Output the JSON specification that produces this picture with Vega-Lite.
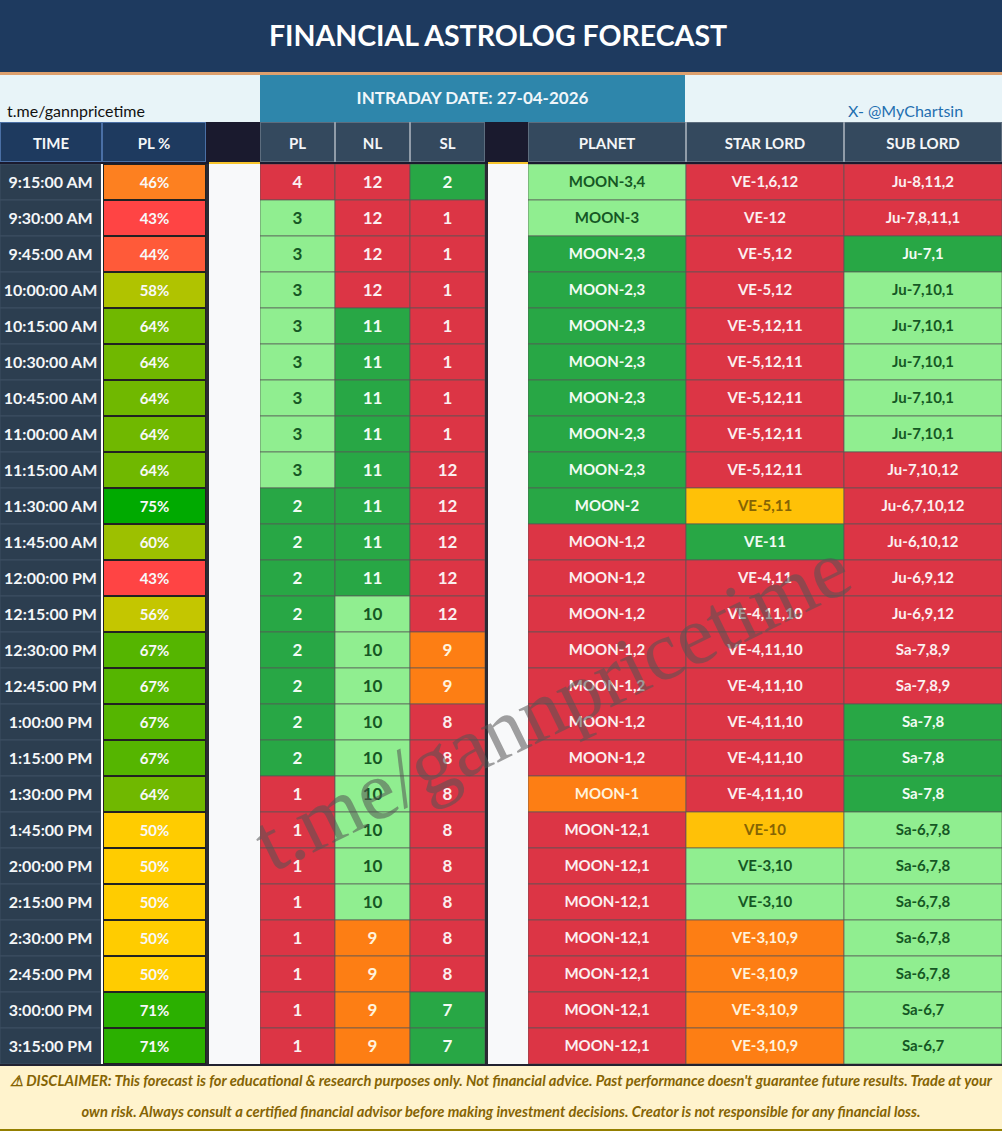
{"$schema":"https://vega.github.io/schema/vega-lite/v6.json","padding":0,"autosize":{"type":"pad"},"background":"#1a1a2e","spacing":0,"config":{"view":{"stroke":null},"font":"Lato","concat":{"spacing":0}},
"datasets":{
"banner":[{"title":"FINANCIAL ASTROLOG FORECAST","date":"INTRADAY DATE: 27-04-2026","left":"t.me/gannpricetime","right":"X- @MyChartsin"}],
"slot":[{"part":"slot"}],
"disclaimer":[{"line":"⚠ DISCLAIMER: This forecast is for educational & research purposes only. Not financial advice. Past performance doesn't guarantee future results. Trade at your"},{"line":"own risk. Always consult a certified financial advisor before making investment decisions. Creator is not responsible for any financial loss."}],
"headers":[{"col":"PL"},{"col":"NL"},{"col":"SL"},{"col":"PLANET"},{"col":"STAR LORD"},{"col":"SUB LORD"}],
"times":[{"time":"9:15:00 AM","pct":0.46},{"time":"9:30:00 AM","pct":0.43},{"time":"9:45:00 AM","pct":0.44},{"time":"10:00:00 AM","pct":0.58},{"time":"10:15:00 AM","pct":0.64},{"time":"10:30:00 AM","pct":0.64},{"time":"10:45:00 AM","pct":0.64},{"time":"11:00:00 AM","pct":0.64},{"time":"11:15:00 AM","pct":0.64},{"time":"11:30:00 AM","pct":0.75},{"time":"11:45:00 AM","pct":0.60},{"time":"12:00:00 PM","pct":0.43},{"time":"12:15:00 PM","pct":0.56},{"time":"12:30:00 PM","pct":0.67},{"time":"12:45:00 PM","pct":0.67},{"time":"1:00:00 PM","pct":0.67},{"time":"1:15:00 PM","pct":0.67},{"time":"1:30:00 PM","pct":0.64},{"time":"1:45:00 PM","pct":0.50},{"time":"2:00:00 PM","pct":0.50},{"time":"2:15:00 PM","pct":0.50},{"time":"2:30:00 PM","pct":0.50},{"time":"2:45:00 PM","pct":0.50},{"time":"3:00:00 PM","pct":0.71},{"time":"3:15:00 PM","pct":0.71}],
"cells":[
{"time":"9:15:00 AM","col":"PL","val":"4","state":"red"},{"time":"9:30:00 AM","col":"PL","val":"3","state":"light"},{"time":"9:45:00 AM","col":"PL","val":"3","state":"light"},{"time":"10:00:00 AM","col":"PL","val":"3","state":"light"},{"time":"10:15:00 AM","col":"PL","val":"3","state":"light"},{"time":"10:30:00 AM","col":"PL","val":"3","state":"light"},{"time":"10:45:00 AM","col":"PL","val":"3","state":"light"},{"time":"11:00:00 AM","col":"PL","val":"3","state":"light"},{"time":"11:15:00 AM","col":"PL","val":"3","state":"light"},{"time":"11:30:00 AM","col":"PL","val":"2","state":"green"},{"time":"11:45:00 AM","col":"PL","val":"2","state":"green"},{"time":"12:00:00 PM","col":"PL","val":"2","state":"green"},{"time":"12:15:00 PM","col":"PL","val":"2","state":"green"},{"time":"12:30:00 PM","col":"PL","val":"2","state":"green"},{"time":"12:45:00 PM","col":"PL","val":"2","state":"green"},{"time":"1:00:00 PM","col":"PL","val":"2","state":"green"},{"time":"1:15:00 PM","col":"PL","val":"2","state":"green"},{"time":"1:30:00 PM","col":"PL","val":"1","state":"red"},{"time":"1:45:00 PM","col":"PL","val":"1","state":"red"},{"time":"2:00:00 PM","col":"PL","val":"1","state":"red"},{"time":"2:15:00 PM","col":"PL","val":"1","state":"red"},{"time":"2:30:00 PM","col":"PL","val":"1","state":"red"},{"time":"2:45:00 PM","col":"PL","val":"1","state":"red"},{"time":"3:00:00 PM","col":"PL","val":"1","state":"red"},{"time":"3:15:00 PM","col":"PL","val":"1","state":"red"},
{"time":"9:15:00 AM","col":"NL","val":"12","state":"red"},{"time":"9:30:00 AM","col":"NL","val":"12","state":"red"},{"time":"9:45:00 AM","col":"NL","val":"12","state":"red"},{"time":"10:00:00 AM","col":"NL","val":"12","state":"red"},{"time":"10:15:00 AM","col":"NL","val":"11","state":"green"},{"time":"10:30:00 AM","col":"NL","val":"11","state":"green"},{"time":"10:45:00 AM","col":"NL","val":"11","state":"green"},{"time":"11:00:00 AM","col":"NL","val":"11","state":"green"},{"time":"11:15:00 AM","col":"NL","val":"11","state":"green"},{"time":"11:30:00 AM","col":"NL","val":"11","state":"green"},{"time":"11:45:00 AM","col":"NL","val":"11","state":"green"},{"time":"12:00:00 PM","col":"NL","val":"11","state":"green"},{"time":"12:15:00 PM","col":"NL","val":"10","state":"light"},{"time":"12:30:00 PM","col":"NL","val":"10","state":"light"},{"time":"12:45:00 PM","col":"NL","val":"10","state":"light"},{"time":"1:00:00 PM","col":"NL","val":"10","state":"light"},{"time":"1:15:00 PM","col":"NL","val":"10","state":"light"},{"time":"1:30:00 PM","col":"NL","val":"10","state":"light"},{"time":"1:45:00 PM","col":"NL","val":"10","state":"light"},{"time":"2:00:00 PM","col":"NL","val":"10","state":"light"},{"time":"2:15:00 PM","col":"NL","val":"10","state":"light"},{"time":"2:30:00 PM","col":"NL","val":"9","state":"orange"},{"time":"2:45:00 PM","col":"NL","val":"9","state":"orange"},{"time":"3:00:00 PM","col":"NL","val":"9","state":"orange"},{"time":"3:15:00 PM","col":"NL","val":"9","state":"orange"},
{"time":"9:15:00 AM","col":"SL","val":"2","state":"green"},{"time":"9:30:00 AM","col":"SL","val":"1","state":"red"},{"time":"9:45:00 AM","col":"SL","val":"1","state":"red"},{"time":"10:00:00 AM","col":"SL","val":"1","state":"red"},{"time":"10:15:00 AM","col":"SL","val":"1","state":"red"},{"time":"10:30:00 AM","col":"SL","val":"1","state":"red"},{"time":"10:45:00 AM","col":"SL","val":"1","state":"red"},{"time":"11:00:00 AM","col":"SL","val":"1","state":"red"},{"time":"11:15:00 AM","col":"SL","val":"12","state":"red"},{"time":"11:30:00 AM","col":"SL","val":"12","state":"red"},{"time":"11:45:00 AM","col":"SL","val":"12","state":"red"},{"time":"12:00:00 PM","col":"SL","val":"12","state":"red"},{"time":"12:15:00 PM","col":"SL","val":"12","state":"red"},{"time":"12:30:00 PM","col":"SL","val":"9","state":"orange"},{"time":"12:45:00 PM","col":"SL","val":"9","state":"orange"},{"time":"1:00:00 PM","col":"SL","val":"8","state":"red"},{"time":"1:15:00 PM","col":"SL","val":"8","state":"red"},{"time":"1:30:00 PM","col":"SL","val":"8","state":"red"},{"time":"1:45:00 PM","col":"SL","val":"8","state":"red"},{"time":"2:00:00 PM","col":"SL","val":"8","state":"red"},{"time":"2:15:00 PM","col":"SL","val":"8","state":"red"},{"time":"2:30:00 PM","col":"SL","val":"8","state":"red"},{"time":"2:45:00 PM","col":"SL","val":"8","state":"red"},{"time":"3:00:00 PM","col":"SL","val":"7","state":"green"},{"time":"3:15:00 PM","col":"SL","val":"7","state":"green"},
{"time":"9:15:00 AM","col":"PLANET","val":"MOON-3,4","state":"light"},{"time":"9:30:00 AM","col":"PLANET","val":"MOON-3","state":"light"},{"time":"9:45:00 AM","col":"PLANET","val":"MOON-2,3","state":"green"},{"time":"10:00:00 AM","col":"PLANET","val":"MOON-2,3","state":"green"},{"time":"10:15:00 AM","col":"PLANET","val":"MOON-2,3","state":"green"},{"time":"10:30:00 AM","col":"PLANET","val":"MOON-2,3","state":"green"},{"time":"10:45:00 AM","col":"PLANET","val":"MOON-2,3","state":"green"},{"time":"11:00:00 AM","col":"PLANET","val":"MOON-2,3","state":"green"},{"time":"11:15:00 AM","col":"PLANET","val":"MOON-2,3","state":"green"},{"time":"11:30:00 AM","col":"PLANET","val":"MOON-2","state":"green"},{"time":"11:45:00 AM","col":"PLANET","val":"MOON-1,2","state":"red"},{"time":"12:00:00 PM","col":"PLANET","val":"MOON-1,2","state":"red"},{"time":"12:15:00 PM","col":"PLANET","val":"MOON-1,2","state":"red"},{"time":"12:30:00 PM","col":"PLANET","val":"MOON-1,2","state":"red"},{"time":"12:45:00 PM","col":"PLANET","val":"MOON-1,2","state":"red"},{"time":"1:00:00 PM","col":"PLANET","val":"MOON-1,2","state":"red"},{"time":"1:15:00 PM","col":"PLANET","val":"MOON-1,2","state":"red"},{"time":"1:30:00 PM","col":"PLANET","val":"MOON-1","state":"orange"},{"time":"1:45:00 PM","col":"PLANET","val":"MOON-12,1","state":"red"},{"time":"2:00:00 PM","col":"PLANET","val":"MOON-12,1","state":"red"},{"time":"2:15:00 PM","col":"PLANET","val":"MOON-12,1","state":"red"},{"time":"2:30:00 PM","col":"PLANET","val":"MOON-12,1","state":"red"},{"time":"2:45:00 PM","col":"PLANET","val":"MOON-12,1","state":"red"},{"time":"3:00:00 PM","col":"PLANET","val":"MOON-12,1","state":"red"},{"time":"3:15:00 PM","col":"PLANET","val":"MOON-12,1","state":"red"},
{"time":"9:15:00 AM","col":"STAR LORD","val":"VE-1,6,12","state":"red"},{"time":"9:30:00 AM","col":"STAR LORD","val":"VE-12","state":"red"},{"time":"9:45:00 AM","col":"STAR LORD","val":"VE-5,12","state":"red"},{"time":"10:00:00 AM","col":"STAR LORD","val":"VE-5,12","state":"red"},{"time":"10:15:00 AM","col":"STAR LORD","val":"VE-5,12,11","state":"red"},{"time":"10:30:00 AM","col":"STAR LORD","val":"VE-5,12,11","state":"red"},{"time":"10:45:00 AM","col":"STAR LORD","val":"VE-5,12,11","state":"red"},{"time":"11:00:00 AM","col":"STAR LORD","val":"VE-5,12,11","state":"red"},{"time":"11:15:00 AM","col":"STAR LORD","val":"VE-5,12,11","state":"red"},{"time":"11:30:00 AM","col":"STAR LORD","val":"VE-5,11","state":"amber"},{"time":"11:45:00 AM","col":"STAR LORD","val":"VE-11","state":"green"},{"time":"12:00:00 PM","col":"STAR LORD","val":"VE-4,11","state":"red"},{"time":"12:15:00 PM","col":"STAR LORD","val":"VE-4,11,10","state":"red"},{"time":"12:30:00 PM","col":"STAR LORD","val":"VE-4,11,10","state":"red"},{"time":"12:45:00 PM","col":"STAR LORD","val":"VE-4,11,10","state":"red"},{"time":"1:00:00 PM","col":"STAR LORD","val":"VE-4,11,10","state":"red"},{"time":"1:15:00 PM","col":"STAR LORD","val":"VE-4,11,10","state":"red"},{"time":"1:30:00 PM","col":"STAR LORD","val":"VE-4,11,10","state":"red"},{"time":"1:45:00 PM","col":"STAR LORD","val":"VE-10","state":"amber"},{"time":"2:00:00 PM","col":"STAR LORD","val":"VE-3,10","state":"light"},{"time":"2:15:00 PM","col":"STAR LORD","val":"VE-3,10","state":"light"},{"time":"2:30:00 PM","col":"STAR LORD","val":"VE-3,10,9","state":"orange"},{"time":"2:45:00 PM","col":"STAR LORD","val":"VE-3,10,9","state":"orange"},{"time":"3:00:00 PM","col":"STAR LORD","val":"VE-3,10,9","state":"orange"},{"time":"3:15:00 PM","col":"STAR LORD","val":"VE-3,10,9","state":"orange"},
{"time":"9:15:00 AM","col":"SUB LORD","val":"Ju-8,11,2","state":"red"},{"time":"9:30:00 AM","col":"SUB LORD","val":"Ju-7,8,11,1","state":"red"},{"time":"9:45:00 AM","col":"SUB LORD","val":"Ju-7,1","state":"green"},{"time":"10:00:00 AM","col":"SUB LORD","val":"Ju-7,10,1","state":"light"},{"time":"10:15:00 AM","col":"SUB LORD","val":"Ju-7,10,1","state":"light"},{"time":"10:30:00 AM","col":"SUB LORD","val":"Ju-7,10,1","state":"light"},{"time":"10:45:00 AM","col":"SUB LORD","val":"Ju-7,10,1","state":"light"},{"time":"11:00:00 AM","col":"SUB LORD","val":"Ju-7,10,1","state":"light"},{"time":"11:15:00 AM","col":"SUB LORD","val":"Ju-7,10,12","state":"red"},{"time":"11:30:00 AM","col":"SUB LORD","val":"Ju-6,7,10,12","state":"red"},{"time":"11:45:00 AM","col":"SUB LORD","val":"Ju-6,10,12","state":"red"},{"time":"12:00:00 PM","col":"SUB LORD","val":"Ju-6,9,12","state":"red"},{"time":"12:15:00 PM","col":"SUB LORD","val":"Ju-6,9,12","state":"red"},{"time":"12:30:00 PM","col":"SUB LORD","val":"Sa-7,8,9","state":"red"},{"time":"12:45:00 PM","col":"SUB LORD","val":"Sa-7,8,9","state":"red"},{"time":"1:00:00 PM","col":"SUB LORD","val":"Sa-7,8","state":"green"},{"time":"1:15:00 PM","col":"SUB LORD","val":"Sa-7,8","state":"green"},{"time":"1:30:00 PM","col":"SUB LORD","val":"Sa-7,8","state":"green"},{"time":"1:45:00 PM","col":"SUB LORD","val":"Sa-6,7,8","state":"light"},{"time":"2:00:00 PM","col":"SUB LORD","val":"Sa-6,7,8","state":"light"},{"time":"2:15:00 PM","col":"SUB LORD","val":"Sa-6,7,8","state":"light"},{"time":"2:30:00 PM","col":"SUB LORD","val":"Sa-6,7,8","state":"light"},{"time":"2:45:00 PM","col":"SUB LORD","val":"Sa-6,7,8","state":"light"},{"time":"3:00:00 PM","col":"SUB LORD","val":"Sa-6,7","state":"light"},{"time":"3:15:00 PM","col":"SUB LORD","val":"Sa-6,7","state":"light"}
]},
"vconcat":[
{"width":1002,"height":72,"data":{"name":"banner"},"layer":[{"mark":{"type":"rect","fill":"#1e3a5f"}},{"mark":{"type":"text","fill":"#ffffff","fontSize":28.5,"fontWeight":"bold","dx":-3,"dy":1},"encoding":{"text":{"field":"title"}}}]},
{"width":1002,"height":3,"data":{"name":"slot"},"mark":{"type":"rect","fill":"#dda06e"}},
{"hconcat":[
{"width":260,"height":47,"data":{"name":"banner"},"layer":[{"mark":{"type":"rect","fill":"#e8f4f8"}},{"mark":{"type":"text","fill":"#111111","fontSize":16,"dx":-54,"dy":13},"encoding":{"text":{"field":"left"}}}]},
{"width":425,"height":47,"data":{"name":"banner"},"layer":[{"mark":{"type":"rect","fill":"#2e86ab"}},{"mark":{"type":"text","fill":"#f0f6fa","fontSize":17,"fontWeight":"bold"},"encoding":{"text":{"field":"date"}}}]},
{"width":317,"height":47,"data":{"name":"banner"},"layer":[{"mark":{"type":"rect","fill":"#e8f4f8"}},{"mark":{"type":"text","fill":"#1f6fb0","fontSize":16,"dx":62,"dy":13},"encoding":{"text":{"field":"right"}}},{"mark":{"type":"rect","fill":"#1f6fb0","width":118,"height":1,"xOffset":62,"yOffset":21}}]}
],"spacing":0,"bounds":"flush"},
{"hconcat":[
{"width":102,"height":40,"data":{"values":[{"col":"TIME"}]},"layer":[{"mark":{"type":"rect","fill":"#1e3a5f","stroke":"#4a6fa5","strokeWidth":2,"clip":true}},{"mark":{"type":"text","fill":"#f4f6f8","fontSize":15,"fontWeight":"bold","dy":1.5},"encoding":{"text":{"field":"col"}}}]},
{"width":104,"height":40,"data":{"values":[{"col":"PL %"}]},"layer":[{"mark":{"type":"rect","fill":"#1e3a5f","stroke":"#4a6fa5","strokeWidth":2,"clip":true}},{"mark":{"type":"text","fill":"#f4f6f8","fontSize":15,"fontWeight":"bold","dy":1.5},"encoding":{"text":{"field":"col"}}}]},
{"width":54,"height":40,"data":{"name":"slot"},"mark":{"type":"rect","fill":"#1a1a2e"}},
{"width":225,"height":40,"data":{"name":"headers"},"transform":[{"filter":"indexof(['PL','NL','SL'],datum.col)>=0"}],"encoding":{"x":{"field":"col","type":"nominal","sort":null,"axis":null,"scale":{"paddingInner":0,"paddingOuter":0}}},"layer":[{"mark":{"type":"rect","fill":"#34495e","stroke":"#5d6d7e","strokeWidth":2,"clip":true}},{"transform":[{"filter":"datum.col!=='PL'"}],"mark":{"type":"rule","stroke":"#c5ccd3","strokeWidth":1,"clip":true},"encoding":{"x":{"field":"col","type":"nominal","sort":null,"bandPosition":0}}},{"mark":{"type":"text","fill":"#f4f6f8","fontSize":15,"fontWeight":"bold","dy":1.5},"encoding":{"text":{"field":"col"}}}]},
{"width":43,"height":40,"data":{"name":"slot"},"mark":{"type":"rect","fill":"#1a1a2e"}},
{"width":474,"height":40,"data":{"name":"headers"},"transform":[{"filter":"indexof(['PLANET','STAR LORD','SUB LORD'],datum.col)>=0"}],"encoding":{"x":{"field":"col","type":"nominal","sort":null,"axis":null,"scale":{"paddingInner":0,"paddingOuter":0}}},"layer":[{"mark":{"type":"rect","fill":"#34495e","stroke":"#5d6d7e","strokeWidth":2,"clip":true}},{"transform":[{"filter":"datum.col!=='PLANET'"}],"mark":{"type":"rule","stroke":"#c5ccd3","strokeWidth":1,"clip":true},"encoding":{"x":{"field":"col","type":"nominal","sort":null,"bandPosition":0}}},{"mark":{"type":"text","fill":"#f4f6f8","fontSize":15,"fontWeight":"bold","dy":1.5},"encoding":{"text":{"field":"col"}}}]}
],"spacing":0,"bounds":"flush"},
{"hconcat":[
{"width":209,"height":2,"data":{"name":"slot"},"mark":{"type":"rect","fill":"#1a1a2e"}},
{"width":51,"height":2,"data":{"name":"slot"},"mark":{"type":"rect","fill":"#f7c52d"}},
{"width":228,"height":2,"data":{"name":"slot"},"mark":{"type":"rect","fill":"#1a1a2e"}},
{"width":40,"height":2,"data":{"name":"slot"},"mark":{"type":"rect","fill":"#f7c52d"}},
{"width":474,"height":2,"data":{"name":"slot"},"mark":{"type":"rect","fill":"#1a1a2e"}}
],"spacing":0,"bounds":"flush"},
{"hconcat":[
{"width":101,"height":900,"data":{"name":"times"},"encoding":{"y":{"field":"time","type":"nominal","sort":null,"axis":null,"scale":{"paddingInner":0,"paddingOuter":0}}},"layer":[{"mark":{"type":"rect","fill":"#2c3e50","stroke":"#3d4f63","strokeWidth":1,"clip":true}},{"mark":{"type":"text","fill":"#f4f6f8","fontSize":16,"fontWeight":"bold","dy":1},"encoding":{"text":{"field":"time"}}}]},
{"width":2,"height":900,"data":{"name":"slot"},"mark":{"type":"rect","fill":"#ffffff"}},
{"width":103,"height":900,"data":{"name":"times"},"encoding":{"y":{"field":"time","type":"nominal","sort":null,"axis":null,"scale":{"paddingInner":0,"paddingOuter":0}}},"layer":[{"mark":{"type":"rect","stroke":"#222222","strokeWidth":2,"clip":true},"encoding":{"fill":{"field":"pct","type":"quantitative","legend":null,"scale":{"domain":[0.43,0.46,0.5,0.6,0.64,0.67,0.71,0.75],"range":["#ff4444","#fd8020","#ffcc00","#9dc000","#70b800","#55b500","#2bb000","#00aa00"]}}}},{"mark":{"type":"text","fill":"#f8f8f8","fontSize":15,"fontWeight":"bold","dy":1},"encoding":{"text":{"field":"pct","type":"quantitative","format":".0%"}}}]},
{"width":3,"height":900,"data":{"name":"slot"},"mark":{"type":"rect","fill":"#2a2a33"}},
{"width":51,"height":900,"data":{"name":"slot"},"mark":{"type":"rect","fill":"#f8f9fa"}},
{"width":225,"height":900,"data":{"name":"cells"},"transform":[{"filter":"indexof(['PL','NL','SL'],datum.col)>=0"}],"encoding":{"x":{"field":"col","type":"nominal","sort":null,"axis":null,"scale":{"paddingInner":0,"paddingOuter":0}},"y":{"field":"time","type":"nominal","sort":null,"axis":null,"scale":{"paddingInner":0,"paddingOuter":0}}},"layer":[{"mark":{"type":"rect","stroke":"#555555","strokeOpacity":0.7,"strokeWidth":1,"clip":true},"encoding":{"fill":{"field":"state","type":"nominal","legend":null,"scale":{"domain":["red","green","light","orange","amber"],"range":["#dc3545","#28a745","#90ee90","#fd7e14","#ffc107"]}}}},{"mark":{"type":"text","fontSize":17,"fontWeight":"bold","dy":1},"encoding":{"text":{"field":"val"},"color":{"field":"state","type":"nominal","legend":null,"scale":{"domain":["red","green","light","orange","amber"],"range":["#fbeff0","#f2fbf4","#155724","#fff3dc","#856404"]}}}}]},
{"width":3,"height":900,"data":{"name":"slot"},"mark":{"type":"rect","fill":"#2a2a33"}},
{"width":40,"height":900,"data":{"name":"slot"},"mark":{"type":"rect","fill":"#f8f9fa"}},
{"width":474,"height":900,"data":{"name":"cells"},"transform":[{"filter":"indexof(['PLANET','STAR LORD','SUB LORD'],datum.col)>=0"}],"encoding":{"x":{"field":"col","type":"nominal","sort":null,"axis":null,"scale":{"paddingInner":0,"paddingOuter":0}},"y":{"field":"time","type":"nominal","sort":null,"axis":null,"scale":{"paddingInner":0,"paddingOuter":0}}},"layer":[{"mark":{"type":"rect","stroke":"#555555","strokeOpacity":0.7,"strokeWidth":1,"clip":true},"encoding":{"fill":{"field":"state","type":"nominal","legend":null,"scale":{"domain":["red","green","light","orange","amber"],"range":["#dc3545","#28a745","#90ee90","#fd7e14","#ffc107"]}}}},{"mark":{"type":"text","fontSize":15,"fontWeight":"bold"},"encoding":{"text":{"field":"val"},"color":{"field":"state","type":"nominal","legend":null,"scale":{"domain":["red","green","light","orange","amber"],"range":["#fbeff0","#f2fbf4","#155724","#fff3dc","#856404"]}}}},{"transform":[{"filter":"datum.col==='PLANET'&&datum.time==='12:45:00 PM'"}],"mark":{"type":"text","text":"t.me/gannpricetime","font":"Liberation Serif","fontSize":84,"angle":-26,"fill":"#555555","opacity":0.55,"dx":-58,"dy":-4}}]}
],"spacing":0,"bounds":"flush"},
{"width":1002,"height":2,"data":{"name":"slot"},"mark":{"type":"rect","fill":"#222230"}},
{"width":1002,"height":63,"data":{"name":"disclaimer"},"layer":[{"mark":{"type":"rect","fill":"#fff3cd"}},{"mark":{"type":"text","fill":"#856404","fontSize":14.7,"fontWeight":"bold","fontStyle":"italic"},"encoding":{"text":{"field":"line"},"y":{"field":"line","type":"nominal","sort":null,"axis":null,"scale":{"paddingInner":0,"paddingOuter":0.575}}}}]},
{"width":1002,"height":2,"data":{"name":"slot"},"mark":{"type":"rect","fill":"#947f00"}}
]}
